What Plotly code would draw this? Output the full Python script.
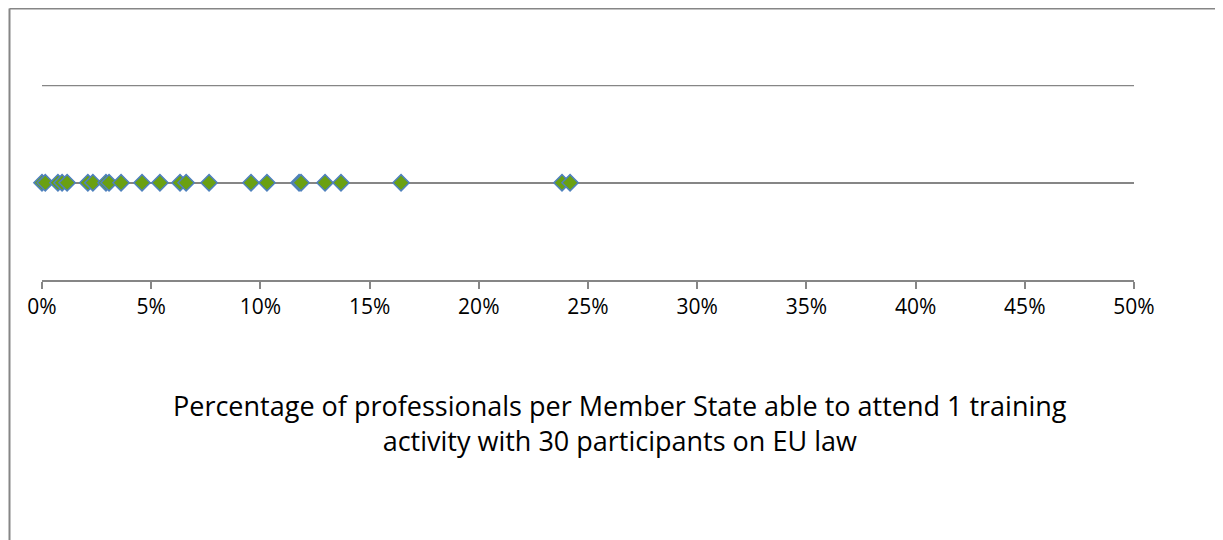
import plotly.graph_objects as go

# Share of professionals per Member State (fraction), all plotted on one line
shares = [0.000, 0.0015, 0.0073, 0.0092, 0.0115, 0.021, 0.0233, 0.0293, 0.0307,
          0.0362, 0.0458, 0.054, 0.0632, 0.066, 0.0765, 0.0957, 0.103, 0.1177,
          0.1186, 0.1296, 0.1369, 0.1644, 0.2381, 0.2418]
row = [1] * len(shares)
tick_vals = [0, 0.05, 0.10, 0.15, 0.20, 0.25, 0.30, 0.35, 0.40, 0.45, 0.50]
tick_text = ["0%", "5%", "10%", "15%", "20%", "25%", "30%", "35%", "40%", "45%", "50%"]
title_text = ("Percentage of professionals per Member State able to attend 1 training<br>"
              "activity with 30 participants on EU law")

GRAY = "#868686"
OFF = 8  # page body margin

bx0 = (9.5 - 42) / 1092
by1 = (280 - 8.5) / 195

fig = go.Figure()
fig.add_trace(go.Scatter(
    x=shares, y=row, mode="markers", cliponaxis=False,
    marker=dict(symbol="diamond", size=12.5, color="#6aa012",
                line=dict(color="#4f81bd", width=1.5)),
    showlegend=False, hoverinfo="x"))

fig.update_layout(
    width=1223 - OFF, height=540 - OFF,
    margin=dict(l=42 - OFF, r=89, t=85 - OFF, b=260, pad=0),
    paper_bgcolor="white", plot_bgcolor="white",
    font=dict(family="Open Sans, Liberation Sans, sans-serif", color="#000000"),
    xaxis=dict(range=[0, 0.5], tickvals=tick_vals, ticktext=tick_text,
               showgrid=False, zeroline=False, showline=True, linecolor=GRAY,
               linewidth=1.5, ticks="outside", ticklen=7, tickcolor=GRAY,
               tickwidth=1.5, tickfont=dict(size=21), fixedrange=True),
    yaxis=dict(range=[0, 2.005], tickvals=[1, 2], showticklabels=False, showgrid=True,
               gridcolor=GRAY, gridwidth=1.5, zeroline=False, showline=False,
               fixedrange=True),
    shapes=[dict(type="line", xref="paper", yref="paper",
                 x0=bx0, x1=1.2, y0=by1, y1=by1,
                 line=dict(color=GRAY, width=2), layer="below"),
            dict(type="line", xref="paper", yref="paper",
                 x0=bx0, x1=bx0, y0=by1, y1=-1.6,
                 line=dict(color=GRAY, width=2), layer="below"),
            dict(type="line", xref="paper", yref="y", x0=0, x1=1, y0=2, y1=2,
                 line=dict(color=GRAY, width=1.5), layer="below")],
    annotations=[dict(text=title_text, xref="paper", yref="paper",
                      x=(620 - 42) / 1092, y=(280 - 423) / 195,
                      xanchor="center", yanchor="middle", showarrow=False,
                      font=dict(size=27, color="#000000"), align="center")],
)

fig.write_html("out.html")
